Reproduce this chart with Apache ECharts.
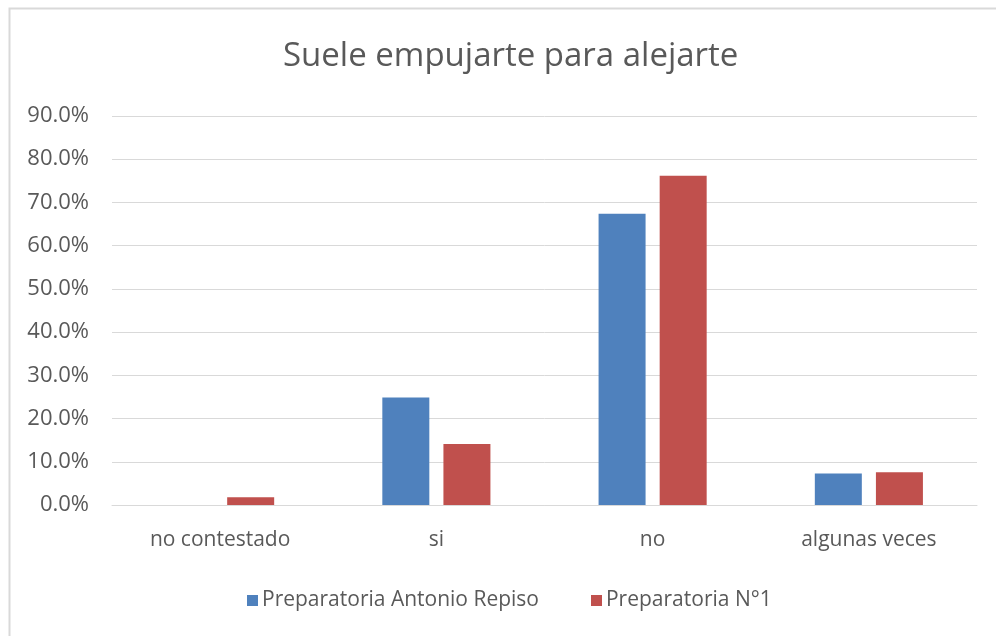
<!DOCTYPE html>
<html>
<head>
<meta charset="utf-8">
<script src="https://cdn.jsdelivr.net/npm/echarts@6/dist/echarts.min.js"></script>
<style>html,body{margin:0;padding:0;background:#fff}#c{width:996px;height:636px}</style>
</head>
<body>
<div id="c"></div>
<script>
var categories = ['no contestado', 'si', 'no', 'algunas veces'];
var seriesNames = ['Preparatoria Antonio Repiso', 'Preparatoria N°1'];
var antonioRepiso = [0, 24.9, 67.4, 7.3];
var preparatoriaN1 = [1.8, 14.1, 76.2, 7.6];
var yTicks = [0, 10, 20, 30, 40, 50, 60, 70, 80, 90];

var chart = echarts.init(document.getElementById('c'));
var font = '"Open Sans", "Liberation Sans", sans-serif';
chart.setOption({
  animation: false,
  backgroundColor: '#fff',
  graphic: [{
    type: 'rect', left: 7, top: 6,
    shape: { width: 995, height: 640 },
    style: { fill: 'none', stroke: '#d9d9d9', lineWidth: 2 },
    silent: true
  }],
  title: {
    text: 'Suele empujarte para alejarte',
    left: 278, top: 35,
    textStyle: { fontFamily: font, fontSize: 33, fontWeight: 'normal', color: '#595959' }
  },
  legend: {
    data: seriesNames,
    top: 585, left: 242,
    itemWidth: 11, itemHeight: 11, itemGap: 52,
    icon: 'rect',
    textStyle: { fontFamily: font, fontSize: 21, color: '#595959', padding: [0, 0, 0, -1] }
  },
  grid: { left: 112, right: 19, top: 116, bottom: 131 },
  xAxis: {
    type: 'category',
    data: categories,
    axisLine: { lineStyle: { color: '#d9d9d9' } },
    axisTick: { show: false },
    axisLabel: { fontFamily: font, fontSize: 21, color: '#595959', margin: 25 }
  },
  yAxis: {
    type: 'value',
    min: yTicks[0], max: yTicks[yTicks.length - 1], interval: 10,
    axisLine: { show: false },
    axisTick: { show: false },
    splitLine: { lineStyle: { color: '#d9d9d9', width: 1 } },
    axisLabel: {
      fontFamily: font, fontSize: 22, color: '#595959', margin: 23,
      formatter: function (v) { return v.toFixed(1) + '%'; }
    }
  },
  series: [
    { name: seriesNames[0], type: 'bar', data: antonioRepiso, barWidth: 47, barGap: '30%',
      itemStyle: { color: '#4F81BD' } },
    { name: seriesNames[1], type: 'bar', data: preparatoriaN1, barWidth: 47, barGap: '30%',
      itemStyle: { color: '#C0504D' } }
  ]
});
</script>
</body>
</html>
